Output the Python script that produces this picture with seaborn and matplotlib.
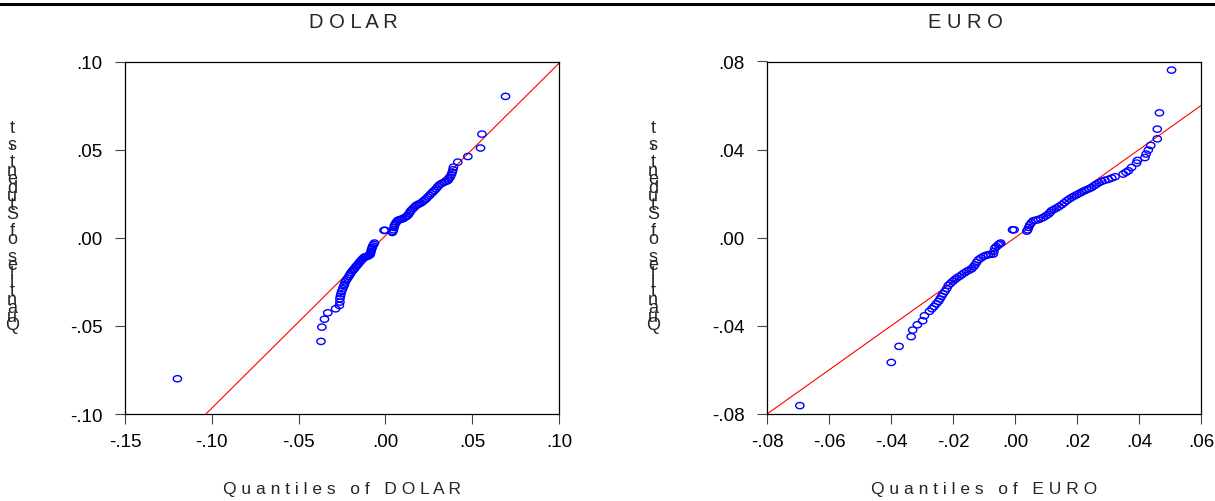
import matplotlib
matplotlib.use("Agg")
import matplotlib.pyplot as plt
import seaborn as sns
from matplotlib.path import Path
from matplotlib.lines import Line2D
from matplotlib.ticker import FuncFormatter, MultipleLocator

# DOLAR: data quantiles vs Student's t quantiles
dolar_x = [-0.1198, -0.0371, -0.0366, -0.0351, -0.0332, -0.0287, -0.0265,
           -0.0262, -0.0262, -0.0259, -0.0256, -0.0252, -0.0246, -0.0240,
           -0.0236, -0.0231, -0.0225, -0.0217, -0.0210, -0.0204, -0.0198,
           -0.0190, -0.0184, -0.0179, -0.0172, -0.0166, -0.0160, -0.0153,
           -0.0146, -0.0140, -0.0133, -0.0127, -0.0121, -0.0114, -0.0108,
           -0.0102, -0.0095, -0.0088, -0.0086, -0.0083, -0.0080, -0.0076,
           -0.0073, -0.0068, -0.0063, -0.0008, -0.0002,
           0.0040, 0.0042, 0.0046, 0.0050, 0.0052, 0.0058, 0.0064, 0.0071,
           0.0080, 0.0090, 0.0100, 0.0110, 0.0120, 0.0129, 0.0136, 0.0142,
           0.0148, 0.0158, 0.0168, 0.0177, 0.0186, 0.0196, 0.0206, 0.0216,
           0.0226, 0.0235, 0.0244, 0.0254, 0.0263, 0.0273, 0.0282, 0.0292,
           0.0302, 0.0312, 0.0326, 0.0340, 0.0350, 0.0360, 0.0366, 0.0373,
           0.0380, 0.0385, 0.0389, 0.0392, 0.0417, 0.0475, 0.0548, 0.0556,
           0.0692]
dolar_t = [-0.0800, -0.0588, -0.0507, -0.0462, -0.0426, -0.0403, -0.0384,
           -0.0365, -0.0346, -0.0332, -0.0318, -0.0304, -0.0289, -0.0275,
           -0.0265, -0.0251, -0.0240, -0.0229, -0.0218, -0.0208, -0.0198,
           -0.0188, -0.0182, -0.0176, -0.0166, -0.0160, -0.0153, -0.0144,
           -0.0136, -0.0129, -0.0122, -0.0116, -0.0110, -0.0108, -0.0106,
           -0.0104, -0.0100, -0.0096, -0.0088, -0.0078, -0.0066, -0.0056,
           -0.0047, -0.0038, -0.0030, 0.0042, 0.0042,
           0.0030, 0.0036, 0.0045, 0.0058, 0.0070, 0.0080, 0.0090, 0.0098,
           0.0102, 0.0105, 0.0108, 0.0114, 0.0120, 0.0127, 0.0137, 0.0146,
           0.0155, 0.0165, 0.0175, 0.0183, 0.0188, 0.0193, 0.0198, 0.0206,
           0.0214, 0.0221, 0.0231, 0.0240, 0.0250, 0.0259, 0.0268, 0.0278,
           0.0290, 0.0301, 0.0309, 0.0316, 0.0320, 0.0325, 0.0334, 0.0344,
           0.0358, 0.0372, 0.0386, 0.0401, 0.0429, 0.0461, 0.0509, 0.0588,
           0.0802]
dolar_line_x = [-0.1034, 0.10]
dolar_line_y = [-0.10, 0.099]

# EURO
euro_x = [-0.0694, -0.0399, -0.0374, -0.0335, -0.0330, -0.0315, -0.0298,
          -0.0292, -0.0276, -0.0268, -0.0261, -0.0254, -0.0247, -0.0242,
          -0.0237, -0.0232, -0.0226, -0.0220, -0.0215, -0.0208, -0.0201,
          -0.0194, -0.0188, -0.0180, -0.0172, -0.0164, -0.0156, -0.0148,
          -0.0140, -0.0134, -0.0129, -0.0124, -0.0118, -0.0110, -0.0102,
          -0.0094, -0.0086, -0.0078, -0.0070, -0.0068, -0.0065, -0.0060,
          -0.0054, -0.0050, -0.0046, -0.0008, -0.0003,
          0.0038, 0.0041, 0.0044, 0.0048, 0.0053, 0.0059, 0.0067, 0.0075,
          0.0083, 0.0091, 0.0100, 0.0108, 0.0113, 0.0118, 0.0126, 0.0134,
          0.0142, 0.0151, 0.0159, 0.0167, 0.0175, 0.0183, 0.0191, 0.0199,
          0.0207, 0.0215, 0.0223, 0.0231, 0.0239, 0.0247, 0.0255, 0.0263,
          0.0271, 0.0280, 0.0290, 0.0301, 0.0312, 0.0323, 0.0349, 0.0358,
          0.0366, 0.0376, 0.0392, 0.0395, 0.0419, 0.0423, 0.0430, 0.0438,
          0.0459, 0.0459, 0.0466, 0.0505]
euro_t = [-0.0762, -0.0566, -0.0493, -0.0449, -0.0419, -0.0395, -0.0377,
          -0.0354, -0.0334, -0.0322, -0.0312, -0.0300, -0.0289, -0.0278,
          -0.0266, -0.0255, -0.0243, -0.0230, -0.0216, -0.0207, -0.0198,
          -0.0190, -0.0183, -0.0176, -0.0168, -0.0160, -0.0153, -0.0147,
          -0.0141, -0.0132, -0.0123, -0.0112, -0.0100, -0.0092, -0.0085,
          -0.0080, -0.0077, -0.0075, -0.0074, -0.0062, -0.0047, -0.0040,
          -0.0032, -0.0028, -0.0024, 0.0036, 0.0036,
          0.0030, 0.0036, 0.0047, 0.0059, 0.0068, 0.0077, 0.0080, 0.0082,
          0.0087, 0.0092, 0.0100, 0.0107, 0.0115, 0.0123, 0.0129, 0.0135,
          0.0142, 0.0150, 0.0159, 0.0168, 0.0176, 0.0183, 0.0189, 0.0195,
          0.0201, 0.0207, 0.0213, 0.0218, 0.0223, 0.0228, 0.0236, 0.0243,
          0.0250, 0.0256, 0.0261, 0.0265, 0.0271, 0.0277, 0.0289, 0.0297,
          0.0304, 0.0319, 0.0339, 0.0351, 0.0364, 0.0380, 0.0398, 0.0419,
          0.0449, 0.0493, 0.0567, 0.0761]
euro_line_x = [-0.08, 0.06]
euro_line_y = [-0.08, 0.06]

panels = [
    ("DOLAR", dolar_x, dolar_t, dolar_line_x, dolar_line_y,
     (-0.15, 0.10), 0.05, (-0.10, 0.10), 0.05),
    ("EURO", euro_x, euro_t, euro_line_x, euro_line_y,
     (-0.08, 0.06), 0.02, (-0.08, 0.08), 0.04),
]

sns.set_style("white")
plt.rcParams['font.family'] = ['Liberation Sans', 'DejaVu Sans']

W, H = 1215, 502
fig = plt.figure(figsize=(W / 100, H / 100), dpi=100)

# slightly flattened open circle, like the EViews marker
circ = Path.unit_circle()
oval = Path(circ.vertices * [1.0, 0.75], circ.codes)


def fmt(v, pos):
    s = f"{v:.2f}"
    return s.replace("0.", ".", 1)


def spaced(text):
    return "   ".join(" ".join(w) for w in text.split())


ax_lefts = [125, 767]
title_x = [353, 965]
ylab_x = [12, 653]

for i, (name, xs, ts, lx, ly, xlim, xstep, ylim, ystep) in enumerate(panels):
    ax = fig.add_axes([ax_lefts[i] / W, 87 / H, 434 / W, 352.5 / H])
    sns.lineplot(x=lx, y=ly, ax=ax, color="#ff0000", linewidth=0.8, sort=False)
    sns.scatterplot(x=xs, y=ts, ax=ax, marker=oval, s=36,
                    fc="none", ec="#0000ff", linewidth=1.0, zorder=3)
    ax.set_xlim(*xlim)
    ax.set_ylim(*ylim)
    ax.xaxis.set_major_locator(MultipleLocator(xstep))
    ax.yaxis.set_major_locator(MultipleLocator(ystep))
    ax.xaxis.set_major_formatter(FuncFormatter(fmt))
    ax.yaxis.set_major_formatter(FuncFormatter(fmt))
    ax.tick_params(axis="both", direction="out", length=7, width=0.8,
                   color="#444444", labelsize=13.5, labelcolor="black")
    ax.tick_params(axis="y", pad=9, left=True)
    ax.tick_params(axis="x", pad=7, bottom=True)
    for sp in ax.spines.values():
        sp.set_color("black")
        sp.set_linewidth(0.9)

    ax.set_xlabel(spaced("Quantiles of  " + name), fontsize=12.5, labelpad=22)
    fig.text(title_x[i] / W, 1 - 22 / H, " ".join(name), fontsize=14.5,
             ha="center", va="center")

    # stacked upright characters of the y label, read bottom to top
    ylab = "Quantiles of Student's t"
    for k, ch in enumerate(ylab):
        fig.text(ylab_x[i] / W, 1 - (326 - 8.6 * k) / H, ch, fontsize=13,
                 ha="center", va="center")

fig.add_artist(Line2D([0, 1], [1 - 5 / H, 1 - 5 / H], color="black",
                      linewidth=2.2, transform=fig.transFigure))

fig.savefig("out.png", dpi=100)
